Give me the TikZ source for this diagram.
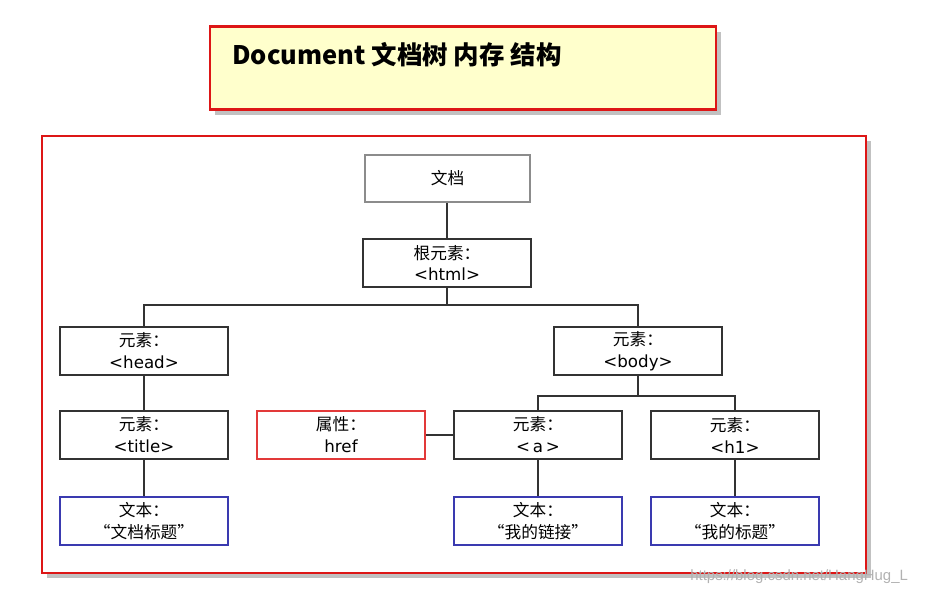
\documentclass[tikz,border=0pt]{standalone}
\usepackage{fontspec}
\setmainfont{Noto Sans CJK SC}
\newfontfamily\latinfont{DejaVu Sans}
\newfontfamily\markfont{Liberation Sans}
\usepackage{tikz}
\usetikzlibrary{positioning,shadows}

\definecolor{frame red}{HTML}{DD1616}
\definecolor{note yellow}{HTML}{FFFFCC}
\definecolor{text blue}{HTML}{3A3AB0}

\newcommand{\tagname}[1]{{\latinfont\textless #1\textgreater}}

\tikzset{
  elem/.style={draw=black!80, line width=1pt, fill=white, minimum width=3.36cm,
    minimum height=0.96cm, inner sep=0pt, align=center, font=\fontsize{9.5}{12.5}\selectfont},
  docbox/.style={elem, draw=black!45, line width=1.3pt, minimum width=3.3cm, minimum height=0.94cm},
  attrbox/.style={elem, draw=frame red!85},
  textbox/.style={elem, draw=text blue},
  link/.style={draw=black!80, line width=0.9pt},
  frame/.style={draw=frame red, line width=1.5pt,
    drop shadow={shadow xshift=3pt, shadow yshift=-3pt, opacity=0.35, fill=black!70}}
}

\begin{document}
\begin{tikzpicture}[x=0.02cm, y=-0.02cm]
    \useasboundingbox (0,0) rectangle (929,594);

    % Title note
    \node[frame, fill=note yellow, minimum width=10.12cm, minimum height=1.66cm,
      inner sep=0pt] (note) at (463,68) {};
    \node[anchor=west, font=\fontsize{14.5}{18}\selectfont\bfseries] (notetext) at (226,55)
      {Document 文档树 内存 结构};

    % Frame round the tree
    \node[frame, fill=white, minimum width=16.48cm, minimum height=8.74cm,
      inner sep=0pt] (tree) at (454,354.5) {};

    % Nodes of the tree
    \node[docbox] (doc) at (447.5,178.5) {文档};
    \node[elem] (html) at (447,263) {根元素：\\\tagname{html}};
    \node[elem] (head) at (144,351) {元素：\\\tagname{head}};
    \node[elem] (body) at (638,351) {元素：\\\tagname{body}};
    \node[elem] (title) at (144,435) {元素：\\\tagname{title}};
    \node[attrbox] (href) at (341,435) {属性：\\{\latinfont href}};
    \node[elem] (a) at (538,435) {元素：\\\tagname{\,a\,}};
    \node[elem] (h1) at (735,435) {元素：\\\tagname{h1}};
    \node[textbox] (titletext) at (144,521) {文本：\\“文档标题”};
    \node[textbox] (atext) at (538,521) {文本：\\“我的链接”};
    \node[textbox] (h1text) at (735,521) {文本：\\“我的标题”};

    % Connectors
    \coordinate (htmlbus) at (447,305);
    \coordinate (bodybus) at (638,396);
    \draw[link] (doc.south -| html) -- (html);
    \draw[link] (html.south) -- (htmlbus);
    \draw[link] (head.north) |- (htmlbus) -| (body.north);
    \draw[link] (body.south) -- (bodybus);
    \draw[link] (a.north) |- (bodybus) -| (h1.north);
    \draw[link] (head) -- (title);
    \draw[link] (title) -- (titletext);
    \draw[link] (href) -- (a);
    \draw[link] (a) -- (atext);
    \draw[link] (h1) -- (h1text);

    % Watermark
    \node[anchor=west, text=black!30, inner sep=0pt, font=\markfont\fontsize{8.5}{10}\selectfont] (mark)
      at (690,577) {https://blog.csdn.net/HangHug\_L};
\end{tikzpicture}
\end{document}
